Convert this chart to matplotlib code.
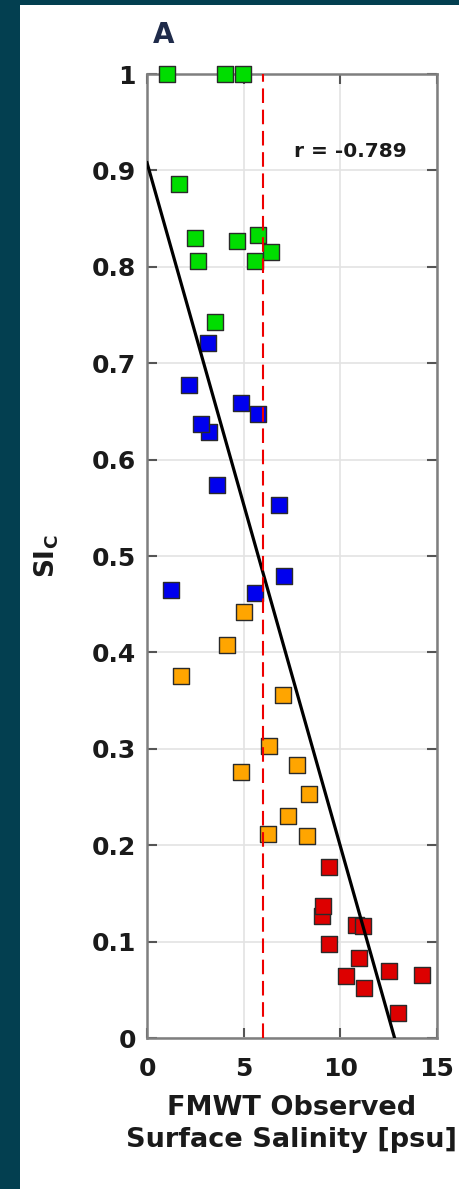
import matplotlib
matplotlib.use("Agg")
import matplotlib.pyplot as plt
from matplotlib.patches import Rectangle
import numpy as np

# ---- data ----
green_x = [1.03, 4.04, 4.97, 1.66, 2.48, 2.64, 4.66, 5.74, 5.59, 6.41, 3.52]
green_y = [1.0, 1.0, 1.0, 0.886, 0.830, 0.806, 0.827, 0.833, 0.806, 0.815, 0.743]

blue_x = [3.14, 2.19, 4.86, 5.73, 3.21, 2.79, 3.64, 6.83, 7.10, 1.22, 5.59]
blue_y = [0.721, 0.677, 0.659, 0.647, 0.629, 0.637, 0.574, 0.553, 0.479, 0.465, 0.462]

orange_x = [5.03, 4.15, 1.74, 7.02, 6.33, 7.74, 4.85, 8.40, 7.31, 6.24, 8.26]
orange_y = [0.442, 0.408, 0.376, 0.356, 0.303, 0.283, 0.276, 0.253, 0.230, 0.212, 0.210]

red_x = [9.42, 9.04, 9.09, 10.81, 11.19, 9.42, 10.97, 10.28, 12.52, 14.24, 11.24, 12.97]
red_y = [0.177, 0.127, 0.137, 0.117, 0.116, 0.097, 0.083, 0.064, 0.069, 0.065, 0.052, 0.026]

fit_intercept = 0.908
fit_slope = -0.0709
threshold_x = 6.0
r_label = "r = -0.789"

x_ticks = [0, 5, 10, 15]
y_ticks = [0, 0.1, 0.2, 0.3, 0.4, 0.5, 0.6, 0.7, 0.8, 0.9, 1.0]
y_tick_labels = ["0", "0.1", "0.2", "0.3", "0.4", "0.5", "0.6", "0.7", "0.8", "0.9", "1"]

plt.rcParams['font.family'] = ['DejaVu Sans']
plt.rcParams['mathtext.fontset'] = 'dejavusans'

W, H = 459, 1189
fig = plt.figure(figsize=(W / 100, H / 100), dpi=100, facecolor='#033f50')
panel = Rectangle((20 / W, 0), 1 - 20 / W, 1 - 5 / H, transform=fig.transFigure,
                  facecolor='white', edgecolor='none', zorder=-10)
fig.add_artist(panel)

ax = fig.add_axes([147 / W, (H - 1038) / H, (437 - 147) / W, (1038 - 74) / H])
ax.set_facecolor('white')
ax.set_xlim(0, 15)
ax.set_ylim(0, 1)

ax.grid(True, color='#e3e3e3', linewidth=1.2, zorder=0)
ax.set_axisbelow(True)

edge = '#2a2a2a'
ms = 11 ** 2
for xs, ys, c in [(green_x, green_y, '#00dd00'), (blue_x, blue_y, '#0000ee'),
                  (orange_x, orange_y, '#ffa500'), (red_x, red_y, '#dd0000')]:
    ax.scatter(xs, ys, s=ms, marker='s', facecolor=c, edgecolor=edge, linewidths=1.0,
               zorder=5, clip_on=False)

xl = np.array([0, 15])
ax.plot(xl, fit_intercept + fit_slope * xl, color='black', linewidth=2.3, zorder=6)
ax.axvline(threshold_x, color='#ee0000', linewidth=1.5, linestyle=(0, (7, 3.2)), zorder=7)

ax.text(10.5, 0.920, r_label, ha='center', va='center', fontsize=14.5, fontweight='bold',
        color='#1a1a1a')

for s in ax.spines.values():
    s.set_color('#7f7f7f')
    s.set_linewidth(1.8)
    s.set_zorder(4)

ax.set_xticks(x_ticks)
ax.set_xticklabels([str(t) for t in x_ticks])
ax.set_yticks(y_ticks)
ax.set_yticklabels(y_tick_labels)
ax.tick_params(direction='in', length=7, width=1.5, color='#555555', top=True, right=True,
               labelsize=18)
ax.tick_params(axis='y', pad=8)
ax.tick_params(axis='x', pad=14)
for lab in ax.get_xticklabels() + ax.get_yticklabels():
    lab.set_fontweight('bold')
    lab.set_color('#1a1a1a')

ax.set_xlabel("FMWT Observed\nSurface Salinity [psu]", fontsize=19.5, fontweight='bold',
              color='#1a1a1a', labelpad=10, linespacing=1.3)
ax.set_ylabel(r"$\mathbf{SI}_\mathbf{C}$", fontsize=19, color='#1a1a1a', labelpad=22)

fig.text(164 / W, 1 - 35 / H, "A", ha='center', va='center', fontsize=20, fontweight='bold',
         color='#1f2b4a')

fig.savefig("out.png", dpi=100, facecolor=fig.get_facecolor())
